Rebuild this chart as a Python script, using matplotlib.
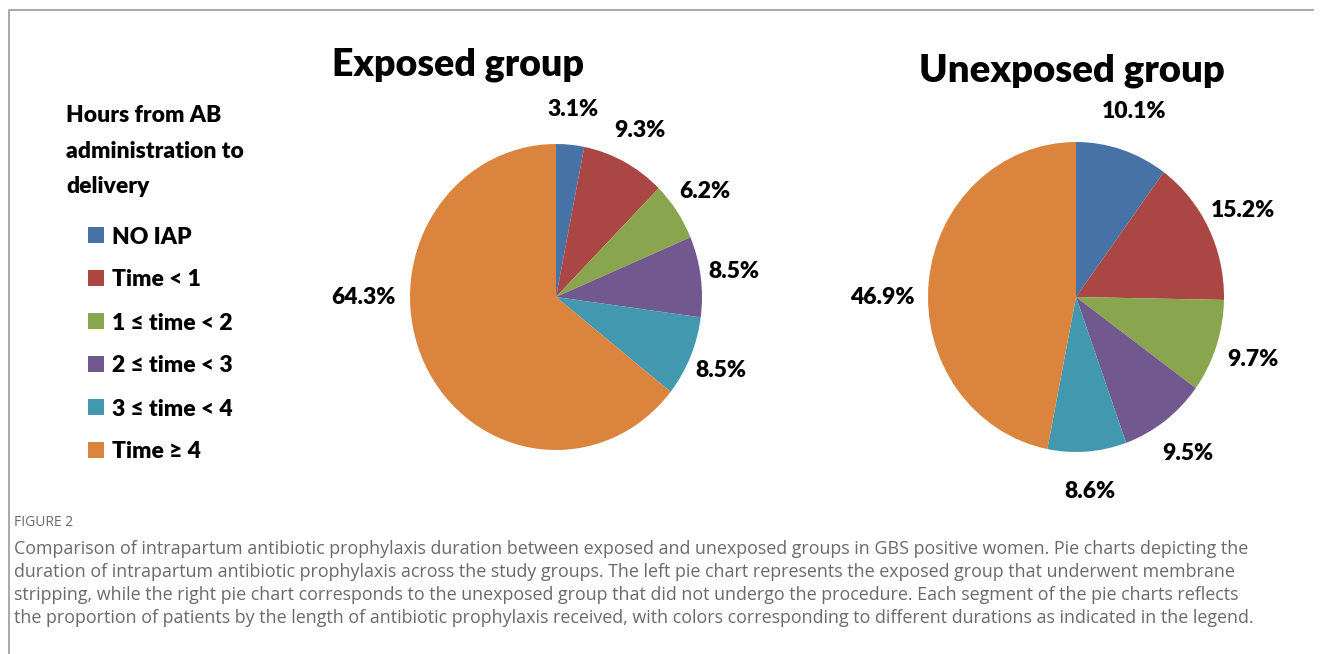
import numpy as np
import matplotlib.pyplot as plt
from matplotlib.patches import Rectangle
from matplotlib.lines import Line2D

# data
categories = ['NO IAP', 'Time < 1', '1 \u2264 time < 2', '2 \u2264 time < 3',
              '3 \u2264 time < 4', 'Time \u2265 4']
colors = ['#4672A6', '#AA4744', '#89A54E', '#71588F', '#4198AF', '#DB843D']
exposed = [3.1, 9.3, 6.2, 8.5, 8.5, 64.3]
unexposed = [10.1, 15.2, 9.7, 9.5, 8.6, 46.9]
legend_title = ['Hours from AB', 'administration to', 'delivery']
caption = [
    'Comparison of intrapartum antibiotic prophylaxis duration between exposed and unexposed groups in GBS positive women. Pie charts depicting the',
    'duration of intrapartum antibiotic prophylaxis across the study groups. The left pie chart represents the exposed group that underwent membrane',
    'stripping, while the right pie chart corresponds to the unexposed group that did not undergo the procedure. Each segment of the pie charts reflects',
    'the proportion of patients by the length of antibiotic prophylaxis received, with colors corresponding to different durations as indicated in the legend.',
]

W, H = 1322, 654
BOLD = dict(family=['Lato', 'DejaVu Sans'], weight='heavy')

fig = plt.figure(figsize=(W / 100, H / 100), dpi=100)


def px_axes(cx, cy, rx, ry, lim=1.6):
    w, h = 2 * lim * rx, 2 * lim * ry
    ax = fig.add_axes([(cx - w / 2) / W, (H - cy - h / 2) / H, w / W, h / H])
    return ax


def draw_pie(ax, vals, dist, big_dist, lim=1.6):
    wedges, texts = ax.pie(vals, colors=colors, startangle=90, counterclock=False,
                           labels=[f'{v}%' for v in vals], labeldistance=dist,
                           wedgeprops=dict(linewidth=0),
                           textprops=dict(fontsize=16.5, color='black', **BOLD))
    for t in texts:
        t.set_ha('center')
    # largest slice label sits level with the centre, as in the original
    texts[-1].set_position((-big_dist, 0))
    ax.set_aspect('auto')
    ax.set_xlim(-lim, lim)
    ax.set_ylim(-lim, lim)
    ax.axis('off')


ax1 = px_axes(556, 297, 146, 153)
draw_pie(ax1, exposed, 1.23, 1.32)
ax2 = px_axes(1076, 297, 148, 155)
draw_pie(ax2, unexposed, 1.26, 1.31)

# titles
fig.text(458 / W, 1 - 76 / H, 'Exposed group', ha='center', va='baseline', fontsize=27, **BOLD)
fig.text(1072 / W, 1 - 82 / H, 'Unexposed group', ha='center', va='baseline', fontsize=27.5, **BOLD)

# legend
for i, line in enumerate(legend_title):
    fig.text(66 / W, 1 - (122 + 35.5 * i) / H, line, ha='left', va='baseline', fontsize=16.5, **BOLD)
for i, (cat, col) in enumerate(zip(categories, colors)):
    yc = 235 + 43 * i
    fig.add_artist(Rectangle((88 / W, 1 - (yc + 8) / H), 16 / W, 16 / H,
                             transform=fig.transFigure, color=col, lw=0))
    fig.text(112 / W, 1 - yc / H, cat, ha='left', va='center_baseline', fontsize=16.5, **BOLD)

# frame lines
fig.add_artist(Line2D([9 / W, 9 / W, 1313 / W], [0, 1 - 10 / H, 1 - 10 / H],
                      transform=fig.transFigure, color='#9a9a9a', lw=1.2))

# caption
fig.text(14 / W, 1 - 523 / H, 'FIGURE 2', ha='left', va='center', fontsize=10,
         color='#6a6a6a', family='Open Sans')
for i, line in enumerate(caption):
    fig.text(14 / W, 1 - (549 + 23 * i) / H, line, ha='left', va='center', fontsize=12.9,
             color='#6a6a6a', family='Open Sans')

plt.savefig('out.png', dpi=100)
